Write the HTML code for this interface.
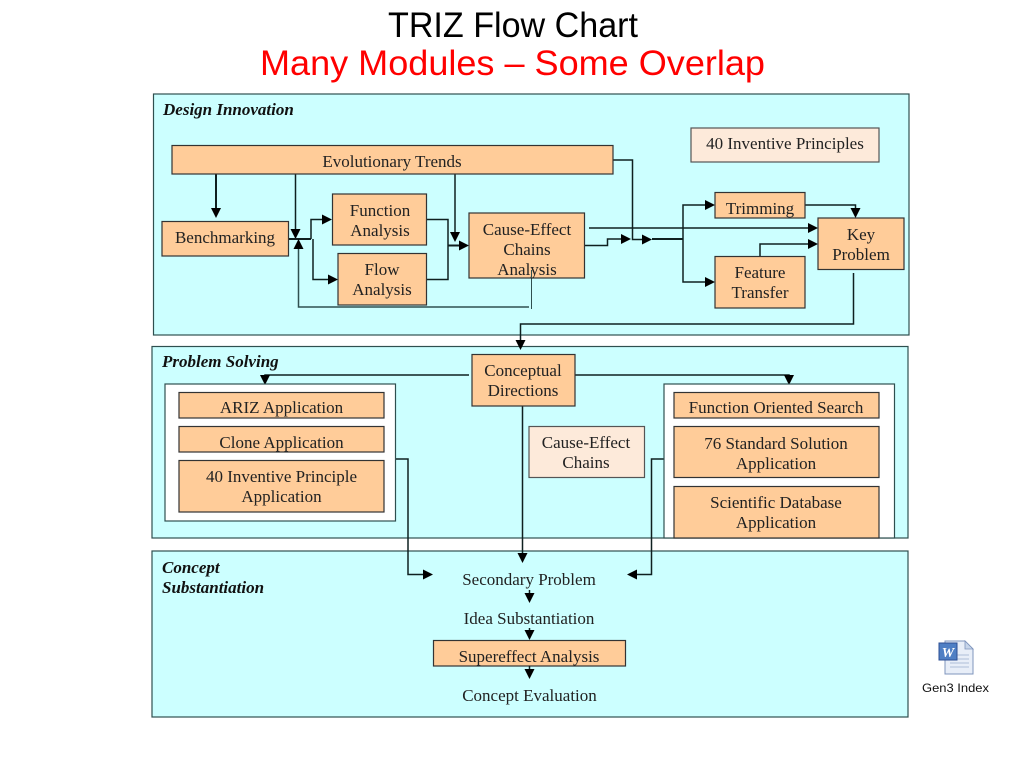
<!DOCTYPE html>
<html><head><meta charset="utf-8"><title>TRIZ Flow Chart</title>
<style>
html,body{margin:0;padding:0;background:#fff}
svg{display:block}
text{font-family:"Liberation Serif",serif;font-size:17px;fill:#222;text-anchor:middle}
.t{font-family:"Liberation Sans",sans-serif;font-size:35px}
.h{font-weight:bold;font-style:italic;text-anchor:start;fill:#111}
.p{fill:#CCFFFF;stroke:#2f4f4f;stroke-width:1.2}
.b{fill:#FFCC99;stroke:#333;stroke-width:1.2}
.l{fill:#FDEADA;stroke:#555;stroke-width:1.2}
.w{fill:#fff;stroke:#2f4f4f;stroke-width:1.2}
.c{fill:none;stroke:#0f2020;stroke-width:1.5}
.c2{fill:none;stroke:#0f2020;stroke-width:2}
.a{fill:#000;stroke:none}
</style></head><body>
<svg width="1024" height="768" viewBox="0 0 1024 768" xmlns="http://www.w3.org/2000/svg">
<defs>
<polygon id="ar" class="a" points="0,0 -10,-5 -10,5"/>
<polygon id="ad" class="a" points="0,0 -5,-10 5,-10"/>
<polygon id="au" class="a" points="0,0 -5,10 5,10"/>
<polygon id="al" class="a" points="0,0 10,-5 10,5"/>
</defs>
<rect width="1024" height="768" fill="#fff"/>
<text class="t" x="513" y="37" textLength="250" lengthAdjust="spacingAndGlyphs" style="fill:#000">TRIZ Flow Chart</text>
<text class="t" x="512.5" y="75" textLength="505" lengthAdjust="spacingAndGlyphs" style="fill:#f00">Many Modules – Some Overlap</text>

<rect class="p" x="153.5" y="94" width="755.5" height="241"/>
<rect class="p" x="152" y="346.5" width="756" height="191.5"/>
<rect class="p" x="152" y="551" width="756" height="166"/>

<text class="h" x="163" y="115">Design Innovation</text>
<text class="h" x="162" y="367">Problem Solving</text>
<text class="h" x="162" y="573">Concept</text>
<text class="h" x="162" y="593">Substantiation</text>

<!-- connectors: design innovation -->
<path class="c2" d="M216 174V210"/><use href="#ad" x="216" y="218"/>
<path class="c" d="M295.5 174V232"/><use href="#ad" x="295.5" y="239"/>
<path class="c" d="M455 174V235"/><use href="#ad" x="455" y="242"/>
<path class="c2" d="M289 239H311"/>
<path class="c" d="M311 239V219.500H325"/><use href="#ar" x="332" y="219.500"/>
<path class="c" d="M313 239V279.500H331"/><use href="#ar" x="338" y="279.500"/>
<path class="c" d="M427 219.500H448V279.500H427"/>
<path class="c2" d="M448 245.500H462"/><use href="#ar" x="469" y="245.500"/>
<path class="c" d="M531.500 276V309" style="stroke:#2f4f4f;stroke-width:1"/>
<path class="c" d="M529 307H298.500V247" style="stroke:#2f5050"/><use href="#au" x="298.500" y="239"/>
<path class="c" d="M589 228H810"/><use href="#ar" x="818" y="228"/>
<path class="c" d="M585 245.500H607.500V239H624"/><use href="#ar" x="631" y="239"/>
<path class="c" d="M613 160H632.500V239.500H646"/><use href="#ar" x="652" y="239.500"/>
<path class="c2" d="M652 239H683"/>
<path class="c" d="M708 205H683V282H708"/><use href="#ar" x="715" y="205"/><use href="#ar" x="715" y="282"/>
<path class="c" d="M805 205H855.500V212"/><use href="#ad" x="855.500" y="218"/>
<path class="c" d="M760 256V244H811"/><use href="#ar" x="818" y="244"/>
<path class="c" d="M853.500 273V324H520.500V343"/><use href="#ad" x="520.500" y="350"/>

<!-- connectors: problem solving -->
<path class="c" d="M469 375H265V378"/><use href="#ad" x="265" y="385"/>
<path class="c" d="M575 375H789V378"/><use href="#ad" x="789" y="385"/>
<path class="c" d="M522.500 406V556"/><use href="#ad" x="522.500" y="563"/>
<path class="c" d="M396 459H408V574.500H426"/><use href="#ar" x="433" y="574.500"/>
<path class="c" d="M664 459H651.500V574.500H634"/><use href="#al" x="627" y="574.500"/>

<!-- boxes -->
<rect class="b" x="172" y="145.500" width="441" height="28.500"/><text x="392" y="167">Evolutionary Trends</text>
<rect class="b" x="162" y="221.500" width="126.500" height="34.500"/><text x="225" y="243">Benchmarking</text>
<rect class="b" x="332.500" y="194" width="94" height="51"/><text x="380" y="216">Function</text><text x="380" y="236">Analysis</text>
<rect class="b" x="338" y="253.500" width="88.500" height="51.500"/><text x="382" y="275">Flow</text><text x="382" y="295">Analysis</text>
<rect class="b" x="469" y="213" width="115.500" height="65"/><text x="527" y="235">Cause-Effect</text><text x="527" y="255">Chains</text><text x="527" y="275">Analysis</text>
<path class="c" d="M531.500 278V270" style="stroke:#2f4f4f;stroke-width:1"/>
<rect class="l" x="691" y="128" width="188" height="34"/><text x="785" y="149">40 Inventive Principles</text>
<rect class="b" x="715" y="192.500" width="90" height="25.500"/><text x="760" y="214">Trimming</text>
<rect class="b" x="818" y="218" width="86" height="51.500"/><text x="861" y="240">Key</text><text x="861" y="260">Problem</text>
<rect class="b" x="715" y="256.500" width="90" height="51.500"/><text x="760" y="278">Feature</text><text x="760" y="298">Transfer</text>

<rect class="b" x="472" y="354.500" width="103" height="51.500"/><text x="523" y="376">Conceptual</text><text x="523" y="396">Directions</text>
<rect class="w" x="165" y="384" width="230.500" height="137"/>
<rect class="b" x="179" y="392.500" width="205" height="25.500"/><text x="281.500" y="413">ARIZ Application</text>
<rect class="b" x="179" y="426.500" width="205" height="25.500"/><text x="281.500" y="448">Clone Application</text>
<rect class="b" x="179" y="460.500" width="205" height="51.500"/><text x="281.500" y="482">40 Inventive Principle</text><text x="281.500" y="502">Application</text>
<rect class="l" x="529" y="426.500" width="115.500" height="51"/><text x="586" y="448">Cause-Effect</text><text x="586" y="468">Chains</text>
<rect class="w" x="664" y="384" width="230.500" height="154"/>
<rect class="b" x="674" y="392.500" width="205" height="25.500"/><text x="776" y="413">Function Oriented Search</text>
<rect class="b" x="674" y="426.500" width="205" height="51"/><text x="776" y="449">76 Standard Solution</text><text x="776" y="469">Application</text>
<rect class="b" x="674" y="486.500" width="205" height="51.500"/><text x="776" y="508">Scientific Database</text><text x="776" y="528">Application</text>

<!-- concept substantiation -->
<text x="529" y="585">Secondary Problem</text>
<path class="c" d="M529.500 590V597"/><use href="#ad" x="529.500" y="603"/>
<text x="529" y="624">Idea Substantiation</text>
<path class="c" d="M529.500 628V634"/><use href="#ad" x="529.500" y="640"/>
<rect class="b" x="433.500" y="640.500" width="192" height="25.500"/><text x="529" y="662">Supereffect Analysis</text>
<path class="c" d="M529.500 666V673"/><use href="#ad" x="529.500" y="679"/>
<text x="529.500" y="701">Concept Evaluation</text>

<!-- document icon -->
<path d="M945 641H965L973 649V674H945Z" fill="#E8EEF8" stroke="#7f95bd" stroke-width="1"/>
<path d="M965 641V649H973Z" fill="#c7d5ea" stroke="#7f95bd" stroke-width="0.800"/>
<path d="M950 655H969M950 659H969M950 663H969M950 667H969" stroke="#aebfd9" stroke-width="1"/>
<rect x="939" y="643" width="18" height="17" fill="#4f7fc4" stroke="#2c4f94" stroke-width="1"/>
<text x="948" y="657" style="font-size:14px;font-weight:bold;font-style:italic;fill:#fff">W</text>
<text x="955.500" y="692" textLength="67" lengthAdjust="spacingAndGlyphs" style="font-family:'Liberation Sans',sans-serif;font-size:12px;fill:#111">Gen3 Index</text>
</svg>
</body></html>
